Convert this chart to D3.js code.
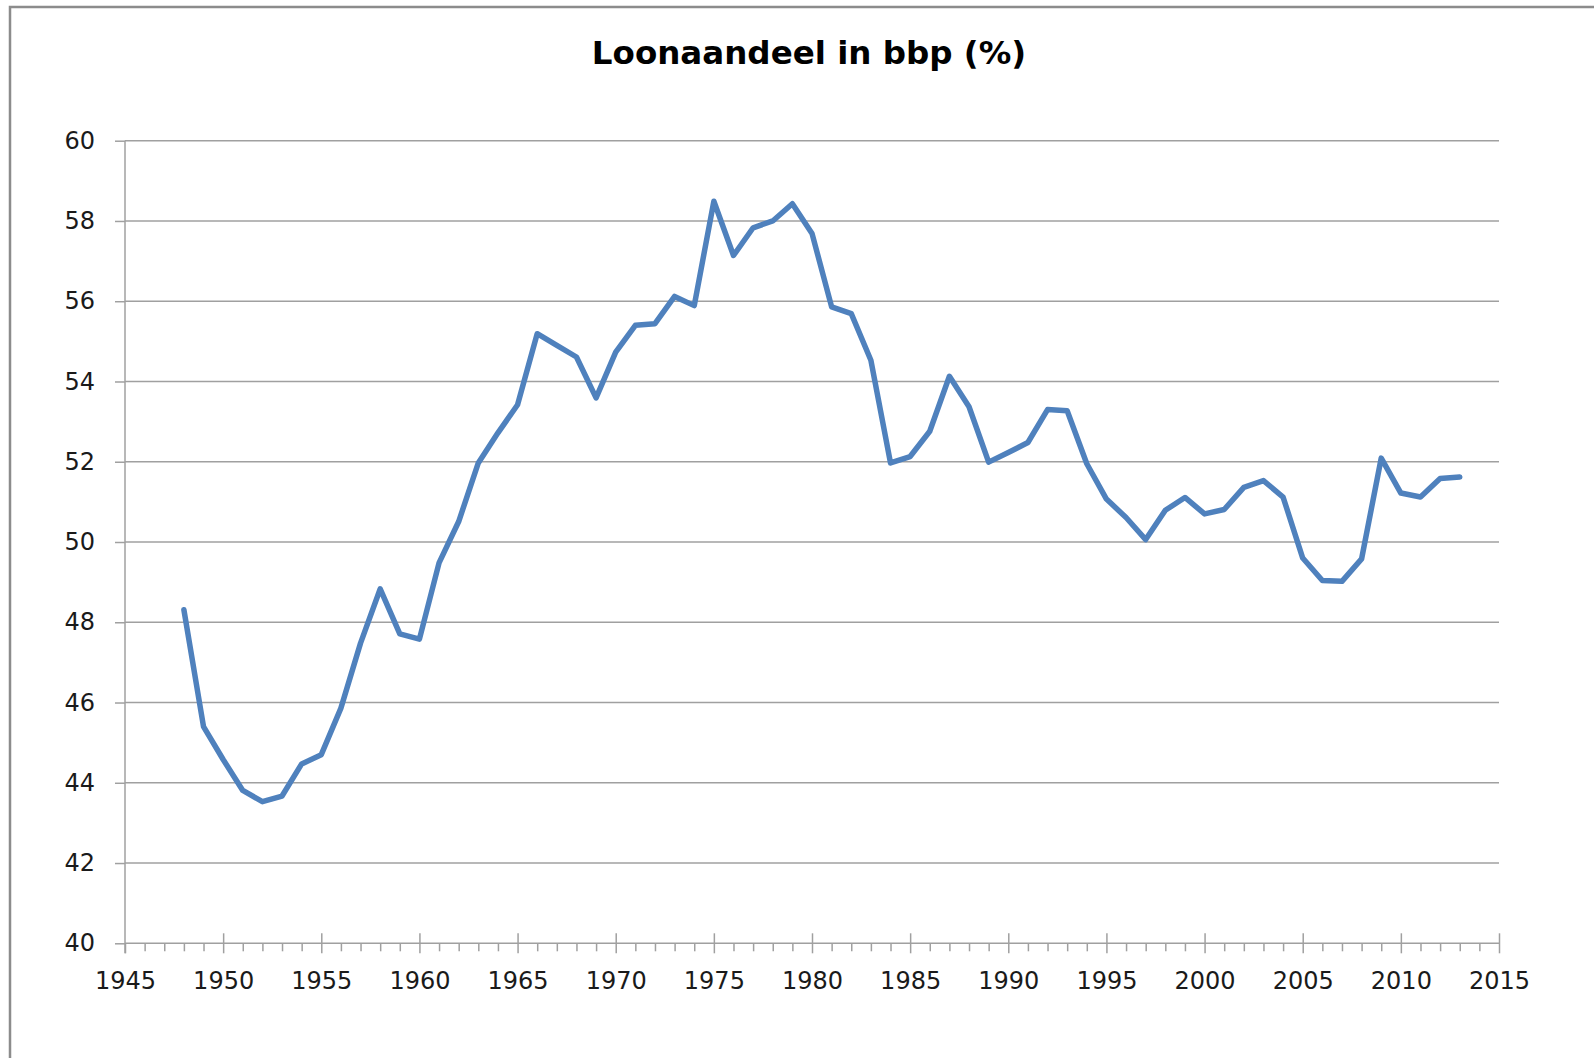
<!DOCTYPE html>
<html>
<head>
<meta charset="utf-8">
<script src="https://cdn.jsdelivr.net/npm/d3@7"></script>
<style>
  html, body { margin: 0; padding: 0; background: #ffffff; }
  svg { display: block; }
</style>
</head>
<body>
<script>
// ---- data ----
const title = "Loonaandeel in bbp (%)";
const years = [1948,1949,1950,1951,1952,1953,1954,1955,1956,1957,1958,1959,1960,1961,1962,1963,1964,1965,1966,1967,1968,1969,1970,1971,1972,1973,1974,1975,1976,1977,1978,1979,1980,1981,1982,1983,1984,1985,1986,1987,1988,1989,1990,1991,1992,1993,1994,1995,1996,1997,1998,1999,2000,2001,2002,2003,2004,2005,2006,2007,2008,2009,2010,2011,2012,2013];
const values = [48.31,45.40,44.58,43.81,43.53,43.67,44.47,44.70,45.86,47.48,48.83,47.71,47.58,49.48,50.51,51.97,52.72,53.42,55.19,54.90,54.61,53.59,54.73,55.40,55.44,56.12,55.89,58.49,57.14,57.83,58.00,58.43,57.69,55.86,55.69,54.53,51.97,52.13,52.76,54.13,53.37,51.99,52.23,52.48,53.30,53.27,51.95,51.07,50.61,50.06,50.79,51.11,50.70,50.81,51.36,51.53,51.12,49.60,49.04,49.02,49.58,52.09,51.22,51.12,51.58,51.62];
const xMajorTicks = [1945,1950,1955,1960,1965,1970,1975,1980,1985,1990,1995,2000,2005,2010,2015];
const yTicks = [40,42,44,46,48,50,52,54,56,58,60];

// ---- layout ----
const W = 1594, H = 1058;
const plotL = 125, plotR = 1499, plotT = 140.7, plotB = 943.3;
const fontFam = "'DejaVu Sans', sans-serif";
const gridColor = "#a0a0a0";

const svg = d3.select("body").append("svg")
  .attr("width", W).attr("height", H);

// outer border (left and top visible)
svg.append("rect")
  .attr("x", 10).attr("y", 7)
  .attr("width", W + 20).attr("height", H + 20)
  .attr("fill", "#ffffff")
  .attr("stroke", "#8c8c8c")
  .attr("stroke-width", 2.5);

const x = d3.scaleLinear().domain([1945, 2015]).range([plotL, plotR]);
const y = d3.scaleLinear().domain([40, 60]).range([plotB, plotT]);

// title
svg.append("text")
  .attr("x", 809).attr("y", 63.5)
  .attr("text-anchor", "middle")
  .attr("font-family", fontFam)
  .attr("font-weight", "bold")
  .attr("font-size", 32.5)
  .attr("fill", "#000")
  .text(title);

// gridlines
svg.append("g").selectAll("line")
  .data(yTicks.filter(d => d !== 40))
  .join("line")
  .attr("x1", plotL).attr("x2", plotR)
  .attr("y1", d => y(d)).attr("y2", d => y(d))
  .attr("stroke", gridColor)
  .attr("stroke-width", 1.5);

// y axis
const yAxis = svg.append("g")
  .attr("transform", `translate(${plotL},0)`)
  .call(d3.axisLeft(y).tickValues(yTicks).tickSize(10).tickPadding(20).tickFormat(d3.format("d")));
yAxis.select(".domain").remove();
yAxis.selectAll(".tick line").attr("stroke", gridColor).attr("stroke-width", 1.5);
yAxis.selectAll(".tick text")
  .attr("font-family", fontFam).attr("font-size", 24).attr("fill", "#1a1a1a");
// y axis line (extends below to meet crossing tick)
svg.append("line")
  .attr("x1", plotL).attr("x2", plotL)
  .attr("y1", y(60)).attr("y2", plotB + 10)
  .attr("stroke", gridColor).attr("stroke-width", 1.5);

// x axis minor ticks
const minorYears = d3.range(1945, 2016).filter(d => d % 5 !== 0);
const xMinor = svg.append("g")
  .attr("transform", `translate(0,${plotB})`)
  .call(d3.axisBottom(x).tickValues(minorYears).tickSize(8).tickFormat(""));
xMinor.select(".domain").remove();
xMinor.selectAll(".tick line").attr("stroke", gridColor).attr("stroke-width", 1.5);

// x axis major ticks + labels
const xAxis = svg.append("g")
  .attr("transform", `translate(0,${plotB})`)
  .call(d3.axisBottom(x).tickValues(xMajorTicks).tickSize(10).tickFormat(d3.format("d")));
xAxis.select(".domain")
  .attr("d", `M${plotL},0H${plotR}`)
  .attr("stroke", gridColor).attr("stroke-width", 1.5);
xAxis.selectAll(".tick line")
  .attr("y1", d => d === 1945 ? 0 : -10).attr("y2", 10)
  .attr("stroke", gridColor).attr("stroke-width", 1.5);
xAxis.selectAll(".tick text")
  .attr("y", 46).attr("dy", null)
  .attr("font-family", fontFam).attr("font-size", 24).attr("fill", "#1a1a1a");

// data line
const line = d3.line()
  .x((d, i) => x(years[i]))
  .y(d => y(d));
svg.append("path")
  .datum(values)
  .attr("d", line)
  .attr("fill", "none")
  .attr("stroke", "#4f81bd")
  .attr("stroke-width", 5.5)
  .attr("stroke-linejoin", "round")
  .attr("stroke-linecap", "round");
</script>
</body>
</html>
